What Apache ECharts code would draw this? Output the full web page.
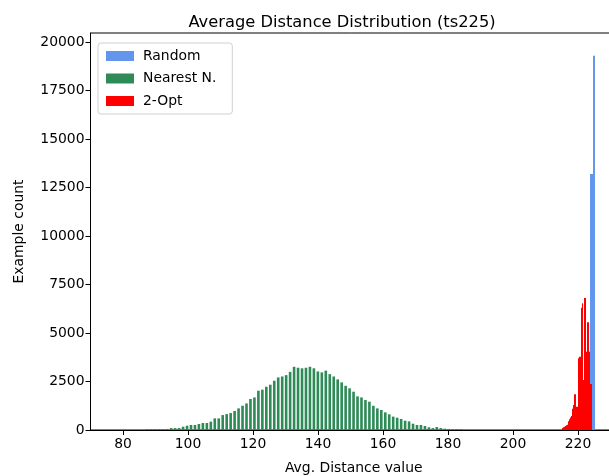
<!DOCTYPE html>
<html>
<head>
<meta charset="utf-8">
<script src="https://cdn.jsdelivr.net/npm/echarts@6/dist/echarts.min.js"></script>
<style>
  html, body { margin: 0; padding: 0; background: #fff; }
  #chart { width: 609px; height: 476px; }
</style>
</head>
<body>
<div id="chart"></div>
<script>
// Histogram of average tour distances for three construction methods (ts225)

// Nearest neighbour: 80 bins
const nnStart = 87.5;      // centre of first bin
const nnBinWidth = 1.22;
const nnCounts = [50,50,50,50,50,55,100,100,100,170,
  220,260,260,310,360,360,430,600,600,770,
  820,875,980,1115,1250,1370,1600,1680,2025,2080,
  2230,2335,2540,2710,2760,2830,3000,3260,3210,3180,
  3210,3260,3180,3020,2970,3060,2880,2760,2610,2455,
  2280,2150,1975,1735,1680,1545,1460,1250,1115,1030,
  910,810,690,635,570,480,445,325,260,260,
  205,140,100,155,100,70,50,50,50,50];

// 2-Opt: narrow bins
const optStart = 215.23;   // centre of first bin
const optBinWidth = 0.3077;
const optCounts = [100,140,170,200,250,270,450,550,650,720,
  1100,1290,1840,1840,1200,1200,3700,3780,3780,6300,
  6540,2575,6800,6800,4030,5560,5560,4030,2370,2370];

// Random: narrow bins
const rndStart = 223.85;
const rndBinWidth = 0.3077;
const rndCounts = [13200, 13200, 13200, 19300, 19300];

const xTicks = [80,100,120,140,160,180,200,220];
const yTicks = [0,2500,5000,7500,10000,12500,15000,17500,20000];

function binsToData(start, width, counts) {
  return counts.map((c, i) => [start + i * width, c]);
}

function barRenderer(width, frac) {
  return function (params, api) {
    const c = api.value(0), h = api.value(1);
    const p0 = api.coord([c - width * frac / 2, h]);
    const p1 = api.coord([c + width * frac / 2, 0]);
    return {
      type: 'rect',
      shape: { x: p0[0], y: p0[1], width: p1[0] - p0[0], height: p1[1] - p0[1] },
      style: { fill: api.visual('color') }
    };
  };
}

const font = 'DejaVu Sans';
const chart = echarts.init(document.getElementById('chart'), null, { renderer: 'canvas' });

chart.setOption({
  animation: false,
  backgroundColor: '#fff',
  title: {
    text: 'Average Distance Distribution (ts225)',
    left: 337, top: 10, textAlign: 'center',
    textStyle: { fontFamily: font, fontSize: 16.3, fontWeight: 'normal', color: '#000' }
  },
  legend: {
    orient: 'vertical', left: 98, top: 43,
    itemWidth: 28, itemHeight: 10, itemGap: 8.5,
    padding: [6, 16, 6, 8],
    backgroundColor: 'rgba(255,255,255,0.8)',
    borderColor: '#d0d0d0', borderWidth: 1, borderRadius: 3,
    icon: 'rect',
    textStyle: { fontFamily: font, fontSize: 13.9, color: '#000', padding: [0, 0, 0, 4] },
    data: ['Random', 'Nearest N.', '2-Opt']
  },
  grid: {
    left: 90.5, width: 526.5, top: 33, bottom: 46,
    outerBoundsMode: 'none', containLabel: false,
    show: true, borderColor: '#000', borderWidth: 1
  },
  xAxis: {
    type: 'value', min: 70, max: 232,
    name: 'Avg. Distance value', nameLocation: 'middle', nameGap: 31,
    nameTextStyle: { fontFamily: font, fontSize: 13.9, color: '#000' },
    axisLine: { show: true, onZero: false, lineStyle: { color: '#000', width: 1 } },
    axisTick: { show: true, length: 5, customValues: xTicks, lineStyle: { color: '#000' } },
    axisLabel: { customValues: xTicks, fontFamily: font, fontSize: 13.9, color: '#000', margin: 7 },
    splitLine: { show: false }
  },
  yAxis: {
    type: 'value', min: 0, max: 20470,
    name: 'Example count', nameLocation: 'middle', nameGap: 64, nameRotate: 90,
    nameTextStyle: { fontFamily: font, fontSize: 13.9, color: '#000' },
    axisLine: { show: true, lineStyle: { color: '#000', width: 1 } },
    axisTick: { show: true, length: 5, customValues: yTicks, lineStyle: { color: '#000' } },
    axisLabel: { customValues: yTicks, formatter: v => String(v), fontFamily: font, fontSize: 13.9, color: '#000', margin: 6 },
    splitLine: { show: false }
  },
  series: [
    {
      name: 'Random', type: 'custom', clip: true,
      itemStyle: { color: '#6495ED' },
      renderItem: barRenderer(rndBinWidth, 1),
      data: binsToData(rndStart, rndBinWidth, rndCounts)
    },
    {
      name: 'Nearest N.', type: 'custom', clip: true,
      itemStyle: { color: '#2E8B57' },
      renderItem: barRenderer(nnBinWidth, 0.66),
      data: binsToData(nnStart, nnBinWidth, nnCounts)
    },
    {
      name: '2-Opt', type: 'custom', clip: true,
      itemStyle: { color: '#FF0000' },
      renderItem: barRenderer(optBinWidth, 1),
      data: binsToData(optStart, optBinWidth, optCounts)
    }
  ]
});
</script>
</body>
</html>
